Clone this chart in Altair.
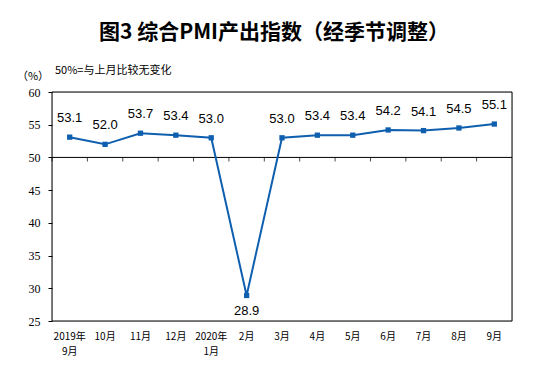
import altair as alt
import pandas as pd

months = ["2019年\n9月", "10月", "11月", "12月", "2020年\n1月", "2月", "3月",
          "4月", "5月", "6月", "7月", "8月", "9月"]
values = [53.1, 52.0, 53.7, 53.4, 53.0, 28.9, 53.0, 53.4, 53.4, 54.2, 54.1, 54.5, 55.1]
y_ticks = [25, 30, 35, 40, 45, 50, 55, 60]
threshold = 50

df = pd.DataFrame({"month": months, "value": values})
one = pd.DataFrame({"t": [0]})

BLUE = "#0F5FAF"
W, H = 460, 229
HALF_BAND = W / len(months) / 2

x_scale = alt.Scale(domain=months, paddingInner=0, paddingOuter=0)
x_axis = alt.Axis(orient="bottom", title=None, domain=False, ticks=False,
                  labelAngle=0, labelPadding=10, labelFontSize=10,
                  labelFont="Noto Sans CJK SC", labelColor="black",
                  labelExpr="split(datum.label, '\\n')", labelLineHeight=15,
                  labelBaseline="top", labelOverlap=False)
y_scale = alt.Scale(domain=[25, 60], nice=False, zero=False)
y_axis = alt.Axis(title=None, values=y_ticks, domain=False, grid=False,
                  tickSize=4, tickColor="black", labelPadding=8,
                  labelFont="Liberation Serif", labelFontSize=12,
                  labelColor="black", labelOverlap=False)

x_enc = alt.X("month:N", sort=months, scale=x_scale, axis=x_axis)
y_enc = alt.Y("value:Q", scale=y_scale, axis=y_axis)

base = alt.Chart(df)

# plot frame
frame_top = alt.Chart(one).mark_rule(color="black", strokeWidth=1).encode(
    x=alt.value(0), x2=alt.value(W), y=alt.value(0))
frame_bot = alt.Chart(one).mark_rule(color="black", strokeWidth=1).encode(
    x=alt.value(0), x2=alt.value(W), y=alt.value(H))
frame_l = alt.Chart(one).mark_rule(color="black", strokeWidth=1).encode(
    x=alt.value(0), y=alt.value(0), y2=alt.value(H))
frame_r = alt.Chart(one).mark_rule(color="black", strokeWidth=1).encode(
    x=alt.value(W), y=alt.value(0), y2=alt.value(H))

line = base.mark_line(color=BLUE, strokeWidth=2).encode(x=x_enc, y=y_enc)
pts = base.mark_point(shape="square", filled=True, size=28, color=BLUE, opacity=1).encode(
    x=x_enc, y=y_enc)

lab_up = base.transform_filter(alt.datum.value >= 40).mark_text(
    dy=-19, fontSize=13, font="Liberation Sans", color="black").encode(
    x=x_enc, y=y_enc, text=alt.Text("value:Q", format=".1f"))
lab_dn = base.transform_filter(alt.datum.value < 40).mark_text(
    dy=16, fontSize=13, font="Liberation Sans", color="black").encode(
    x=x_enc, y=y_enc, text=alt.Text("value:Q", format=".1f"))

rule50 = alt.Chart(one).mark_rule(color="black", strokeWidth=1).encode(
    y=alt.YDatum(threshold, scale=y_scale, axis=y_axis))

# tick marks hanging below the 50 line, at category boundaries
ticks50 = base.mark_tick(orient="vertical", size=4, thickness=1, color="black",
                         yOffset=2, xOffset=-HALF_BAND).encode(
    x=x_enc,
    y=alt.YDatum(threshold, scale=y_scale, axis=y_axis))

pct = alt.Chart(one).mark_text(text="（%）", fontSize=11, font="Noto Sans CJK SC",
                               color="black", align="center", baseline="middle").encode(
    x=alt.value(-19), y=alt.value(-15))
note = alt.Chart(one).mark_text(text="50%=与上月比较无变化", fontSize=11, font="Noto Sans CJK SC",
                                color="black", align="left", baseline="middle").encode(
    x=alt.value(3), y=alt.value(-21))

chart = alt.layer(frame_top, frame_bot, frame_l, frame_r, rule50, ticks50, line, pts,
                  lab_up, lab_dn, pct, note).properties(
    width=W, height=H,
    autosize=alt.AutoSizeParams(type="none"),
    padding={"left": 44, "top": 84, "right": 17, "bottom": 42},
    title=alt.TitleParams("图3 综合PMI产出指数（经季节调整）", font="Noto Sans CJK SC",
                          fontSize=21, fontWeight="bold", color="black",
                          anchor="middle", dx=-8, offset=22),
).configure_view(stroke="black", strokeWidth=1).configure(background="white")

chart.save("out.html", embed_options={"renderer": "svg", "actions": False})
